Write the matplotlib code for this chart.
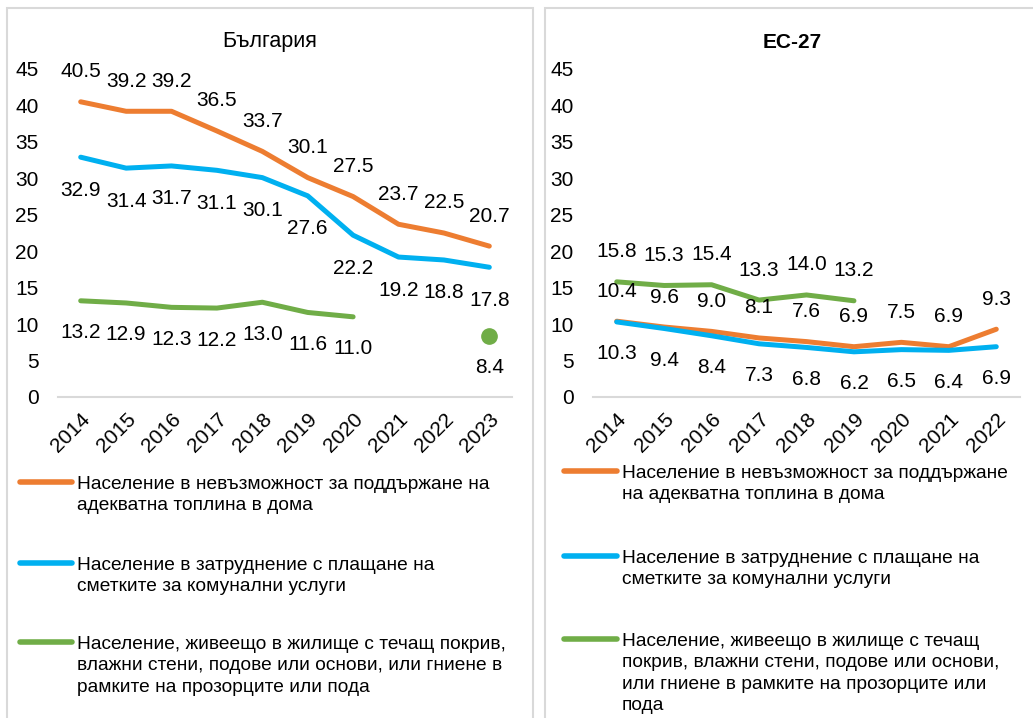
import matplotlib
matplotlib.use("Agg")
import matplotlib.pyplot as plt
import matplotlib.transforms as mtransforms
import numpy as np
from matplotlib.lines import Line2D
from matplotlib.patches import Rectangle

plt.rcParams['font.family'] = ['Liberation Sans', 'DejaVu Sans']

ORANGE = '#ED7D31'
BLUE = '#00B0F0'
GREEN = '#70AD47'

# Bulgaria
bg_years = ['2014', '2015', '2016', '2017', '2018', '2019', '2020', '2021', '2022', '2023']
bg_heat = [40.5, 39.2, 39.2, 36.5, 33.7, 30.1, 27.5, 23.7, 22.5, 20.7]
bg_bills = [32.9, 31.4, 31.7, 31.1, 30.1, 27.6, 22.2, 19.2, 18.8, 17.8]
bg_roof = [13.2, 12.9, 12.3, 12.2, 13.0, 11.6, 11.0, np.nan, np.nan, 8.4]

# EU-27
eu_years = ['2014', '2015', '2016', '2017', '2018', '2019', '2020', '2021', '2022']
eu_heat = [10.4, 9.6, 9.0, 8.1, 7.6, 6.9, 7.5, 6.9, 9.3]
eu_bills = [10.3, 9.4, 8.4, 7.3, 6.8, 6.2, 6.5, 6.4, 6.9]
eu_roof = [15.8, 15.3, 15.4, 13.3, 14.0, 13.2, np.nan, np.nan, np.nan]

left_wrapped = [
    'Население в невъзможност за поддържане на\nадекватна топлина в дома',
    'Население в затруднение с плащане на\nсметките за комунални услуги',
    'Население, живеещо в жилище с течащ покрив,\nвлажни стени, подове или основи, или гниене в\nрамките на прозорците или пода',
]
right_wrapped = [
    'Население в невъзможност за поддържане\nна адекватна топлина в дома',
    'Население в затруднение с плащане на\nсметките за комунални услуги',
    'Население, живеещо в жилище с течащ\nпокрив, влажни стени, подове или основи,\nили гниене в рамките на прозорците или\nпода',
]

W, H = 1033, 718
fig = plt.figure(figsize=(W / 100, H / 100), dpi=100)


def fx(px):
    return px / W


def fy(py):
    return 1 - py / H


# panel frames
fig.patches.append(Rectangle((fx(7), fy(730)), fx(526), (730 - 8) / H, transform=fig.transFigure,
                             fill=False, edgecolor='#D9D9D9', linewidth=1.5))
fig.patches.append(Rectangle((fx(545), fy(730)), fx(500), (730 - 8) / H, transform=fig.transFigure,
                             fill=False, edgecolor='#D9D9D9', linewidth=1.5))


def panel(left, right, years, heat, bills, roof):
    ax = fig.add_axes([fx(left), fy(397), fx(right - left), (397 - 69) / H])
    x = np.arange(len(years))
    ax.plot(x, heat, color=ORANGE, lw=3.6, solid_capstyle='round', solid_joinstyle='round')
    ax.plot(x, bills, color=BLUE, lw=3.6, solid_capstyle='round', solid_joinstyle='round')
    roof = np.array(roof, dtype=float)
    ax.plot(x, roof, color=GREEN, lw=3.6, solid_capstyle='round', solid_joinstyle='round')
    # isolated points that a line cannot show
    for i in range(len(roof)):
        if np.isnan(roof[i]):
            continue
        prev_nan = i == 0 or np.isnan(roof[i - 1])
        next_nan = i == len(roof) - 1 or np.isnan(roof[i + 1])
        if prev_nan and next_nan:
            ax.plot(x[i], roof[i], 'o', color=GREEN, markersize=11)
    return ax, x


def labels(ax, x, vals, dy):
    for xi, v in zip(x, vals):
        if np.isnan(v):
            continue
        ax.annotate(f'{v:.1f}', (xi, v), xytext=(0, dy), textcoords='offset pixels',
                    ha='center', va='center', fontsize=15, color='#000000')


def style(ax, years):
    ax.set_ylim(0, 45)
    ax.set_xlim(-0.5, len(years) - 0.5)
    ax.set_yticks(range(0, 50, 5))
    ax.set_xticks(range(len(years)))
    ax.set_xticklabels(years, rotation=45, ha='right', rotation_mode='anchor')
    shift = mtransforms.ScaledTranslation(-5 / 100, -2 / 100, fig.dpi_scale_trans)
    for lab in ax.get_xticklabels():
        lab.set_transform(lab.get_transform() + shift)
    for s in ['top', 'right', 'left']:
        ax.spines[s].set_visible(False)
    ax.spines['bottom'].set_color('#D9D9D9')
    ax.spines['bottom'].set_linewidth(1.5)
    ax.tick_params(axis='both', length=0, labelsize=15)
    ax.tick_params(axis='y', pad=14)
    ax.tick_params(axis='x', pad=9)
    ax.patch.set_visible(False)


ax1, x1 = panel(58, 512, bg_years, bg_heat, bg_bills, bg_roof)
labels(ax1, x1, bg_heat, 30)
labels(ax1, x1, bg_bills, -33)
labels(ax1, x1, bg_roof, -32)
style(ax1, bg_years)

ax2, x2 = panel(593, 1020, eu_years, eu_heat, eu_bills, eu_roof)
labels(ax2, x2, eu_heat, 30)
labels(ax2, x2, eu_bills, -32)
labels(ax2, x2, eu_roof, 30)
style(ax2, eu_years)

fig.text(fx(270), fy(42), 'България', ha='center', va='center', fontsize=15.5)
fig.text(fx(792), fy(42), 'ЕС-27', ha='center', va='center', fontsize=15, fontweight='bold')

# legends
colors = [ORANGE, BLUE, GREEN]


def legend(x0, x1, xt, ys, texts):
    for c, y, t in zip(colors, ys, texts):
        fig.add_artist(Line2D([fx(x0), fx(x1)], [fy(y), fy(y)], transform=fig.transFigure,
                              color=c, lw=4, solid_capstyle='round'))
        fig.text(fx(xt), fy(y - 6), t, ha='left', va='top', fontsize=13.8, linespacing=1.33)


legend(20, 72, 77, [482, 563, 642], left_wrapped)
legend(564, 617, 622, [471, 556, 639], right_wrapped)

fig.savefig('out.png', dpi=100)
